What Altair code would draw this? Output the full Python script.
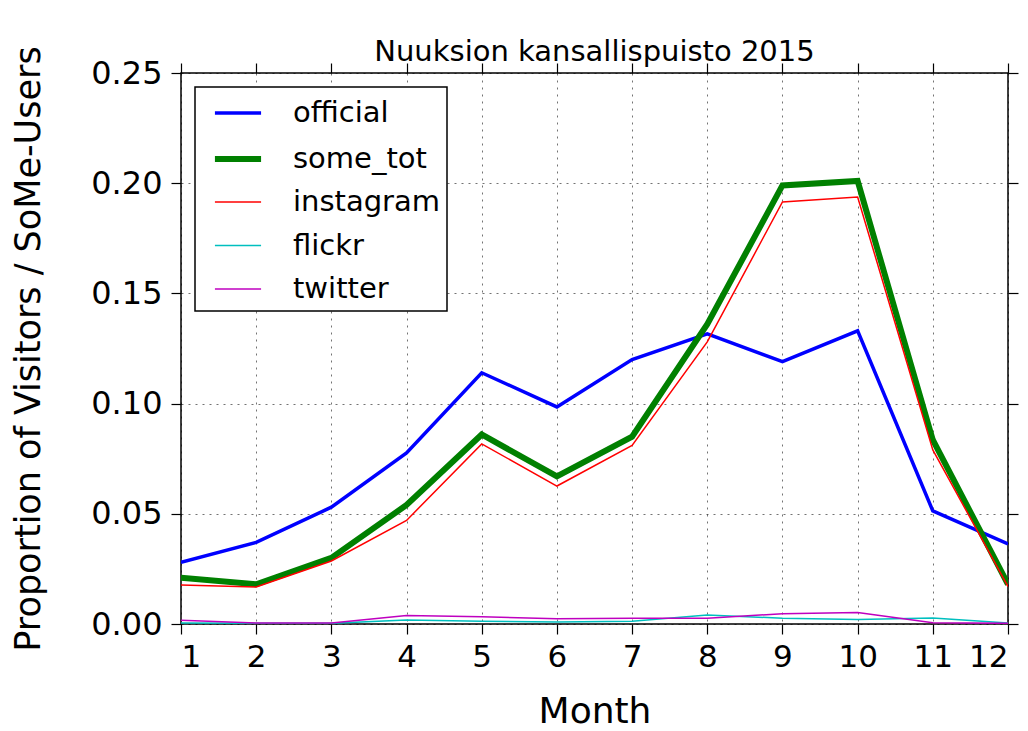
import altair as alt
import pandas as pd

months = list(range(1, 13))
series = ["official", "some_tot", "instagram", "flickr", "twitter"]
official = [0.028, 0.037, 0.053, 0.0776, 0.114, 0.0985, 0.120, 0.1316, 0.119, 0.133, 0.0513, 0.0363]
some_tot = [0.021, 0.018, 0.030, 0.054, 0.086, 0.067, 0.085, 0.136, 0.199, 0.201, 0.0835, 0.018]
instagram = [0.0177, 0.0168, 0.0286, 0.047, 0.0817, 0.0626, 0.081, 0.128, 0.1915, 0.1937, 0.079, 0.017]
flickr = [0.0005, 0.0003, 0.0003, 0.0018, 0.0012, 0.0009, 0.0012, 0.0041, 0.0026, 0.0020, 0.0027, 0.0004]
twitter = [0.0017, 0.0004, 0.0004, 0.0038, 0.0033, 0.0024, 0.0026, 0.0026, 0.0047, 0.0052, 0.0006, 0.0003]
y_ticks = [0.0, 0.05, 0.10, 0.15, 0.20, 0.25]

colors = ["#0000ff", "#008000", "#ff0000", "#00bfbf", "#bf00bf"]
widths = [3.5, 6, 1.5, 1.5, 1.5]

values = {"official": official, "some_tot": some_tot, "instagram": instagram,
          "flickr": flickr, "twitter": twitter}
rows = []
for s in series:
    for m, v in zip(months, values[s]):
        rows.append({"month": m, "value": v, "series": s})
df = pd.DataFrame(rows)

FONT = "DejaVu Sans"

x_scale = alt.Scale(domain=[1, 12], nice=False, zero=False)
y_scale = alt.Scale(domain=[0, 0.25], nice=False)

legend = alt.Legend(title=None, orient="none", legendX=14, legendY=14,
                    rowPadding=9.5, padding=6.5, symbolOffset=15.5, labelOffset=34,
                    symbolSize=1260, symbolType="M-1.3,0L1.3,0")

lines = alt.Chart(df).mark_line(clip=True).encode(
    x=alt.X("month:Q", scale=x_scale,
            axis=alt.Axis(orient="bottom", values=months, format="d", title="Month",
                          titleFontSize=36, titleY=98, titleBaseline="alphabetic",
                          labelFontSize=31, labelPadding=8, grid=True)),
    y=alt.Y("value:Q", scale=y_scale,
            axis=alt.Axis(orient="left", values=y_ticks, format=".2f",
                          title="Proportion of Visitors / SoMe-Users",
                          titleFontSize=35, titleX=-142, titleBaseline="alphabetic",
                          labelFontSize=32, labelPadding=9, grid=True)),
    color=alt.Color("series:N", scale=alt.Scale(domain=series, range=colors), legend=legend),
    strokeWidth=alt.StrokeWidth("series:N",
                                scale=alt.Scale(type="ordinal", domain=series, range=widths),
                                legend=legend),
    detail="series:N",
)

frame = alt.Chart(df).mark_line(opacity=0).encode(
    x=alt.X("month:Q", scale=x_scale,
            axis=alt.Axis(orient="top", values=months, labels=False, title=None, grid=False)),
    y=alt.Y("value:Q", scale=y_scale,
            axis=alt.Axis(orient="right", values=y_ticks, labels=False, title=None, grid=False)),
)

chart = alt.layer(lines, frame).resolve_axis(x="independent", y="independent").properties(
    width=827,
    height=551,
    title=alt.Title("Nuuksion kansallispuisto 2015", fontSize=29, font=FONT,
                    fontWeight="normal", anchor="middle", baseline="alphabetic",
                    offset=2, dy=46),
    autosize=alt.AutoSizeParams(type="none"),
    padding={"left": 173, "top": 65, "right": 12, "bottom": 108},
).configure_view(
    stroke="black", strokeWidth=1.5
).configure_axis(
    domain=False, tickColor="black", tickSize=10, tickWidth=1.2,
    labelFont=FONT, titleFont=FONT, labelColor="black", titleColor="black",
    titleFontWeight="normal", gridColor="#000000", gridOpacity=0.55,
    gridDash=[2, 5], gridWidth=1,
).configure_legend(
    labelFont=FONT, labelFontSize=29, labelColor="black", labelLimit=400,
    strokeColor="black", fillColor="white", strokeWidth=1.5,
)

chart.save("out.html", embed_options={"renderer": "svg", "actions": False})
